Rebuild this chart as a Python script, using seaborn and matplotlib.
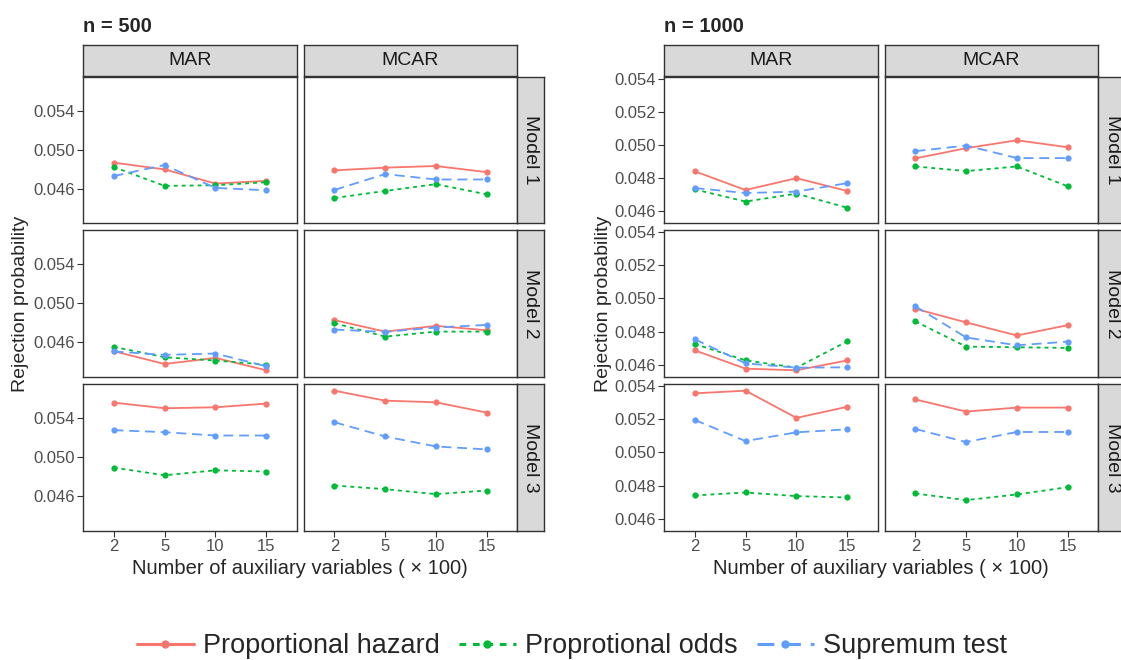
import numpy as np
import pandas as pd
import matplotlib
matplotlib.use("Agg")
import matplotlib.pyplot as plt
import seaborn as sns
from matplotlib.lines import Line2D

sns.set_style("white")
plt.rcParams['font.family'] = ['Liberation Sans', 'DejaVu Sans']

x_labels = ["2", "5", "10", "15"]
methods = ["Proportional hazard", "Proprotional odds", "Supremum test"]
mechanisms = ["MAR", "MCAR"]
models = ["Model 1", "Model 2", "Model 3"]

# n = 500
n500_m1_mar_ph = [0.04868, 0.04798, 0.04652, 0.04680]
n500_m1_mar_po = [0.04823, 0.04628, 0.04635, 0.04666]
n500_m1_mar_st = [0.04729, 0.04843, 0.04607, 0.04583]
n500_m1_mcar_ph = [0.04788, 0.04816, 0.04833, 0.04770]
n500_m1_mcar_po = [0.04503, 0.04576, 0.04646, 0.04541]
n500_m1_mcar_st = [0.04586, 0.04750, 0.04694, 0.04694]
n500_m2_mar_ph = [0.04510, 0.04379, 0.04441, 0.04314]
n500_m2_mar_po = [0.04555, 0.04448, 0.04414, 0.04372]
n500_m2_mar_st = [0.04507, 0.04472, 0.04486, 0.04355]
n500_m2_mcar_ph = [0.04828, 0.04710, 0.04769, 0.04724]
n500_m2_mcar_po = [0.04797, 0.04659, 0.04710, 0.04710]
n500_m2_mcar_st = [0.04731, 0.04707, 0.04752, 0.04779]
n500_m3_mar_ph = [0.05560, 0.05502, 0.05512, 0.05550]
n500_m3_mar_po = [0.04895, 0.04816, 0.04867, 0.04854]
n500_m3_mar_st = [0.05278, 0.05257, 0.05223, 0.05223]
n500_m3_mcar_ph = [0.05682, 0.05580, 0.05563, 0.05458]
n500_m3_mcar_po = [0.04711, 0.04674, 0.04623, 0.04660]
n500_m3_mcar_st = [0.05359, 0.05213, 0.05111, 0.05081]

# n = 1000
n1000_m1_mar_ph = [0.04840, 0.04726, 0.04798, 0.04720]
n1000_m1_mar_po = [0.04730, 0.04656, 0.04704, 0.04618]
n1000_m1_mar_st = [0.04738, 0.04708, 0.04716, 0.04768]
n1000_m1_mcar_ph = [0.04918, 0.04980, 0.05028, 0.04986]
n1000_m1_mcar_po = [0.04869, 0.04841, 0.04869, 0.04749]
n1000_m1_mcar_st = [0.04962, 0.04996, 0.04920, 0.04920]
n1000_m2_mar_ph = [0.04687, 0.04576, 0.04566, 0.04626]
n1000_m2_mar_po = [0.04725, 0.04626, 0.04582, 0.04741]
n1000_m2_mar_st = [0.04754, 0.04608, 0.04582, 0.04584]
n1000_m2_mcar_ph = [0.04937, 0.04855, 0.04776, 0.04838]
n1000_m2_mcar_po = [0.04861, 0.04709, 0.04705, 0.04701]
n1000_m2_mcar_st = [0.04952, 0.04764, 0.04717, 0.04739]
n1000_m3_mar_ph = [0.05356, 0.05372, 0.05208, 0.05275]
n1000_m3_mar_po = [0.04740, 0.04758, 0.04736, 0.04728]
n1000_m3_mar_st = [0.05196, 0.05068, 0.05121, 0.05139]
n1000_m3_mcar_ph = [0.05319, 0.05246, 0.05270, 0.05270]
n1000_m3_mcar_po = [0.04752, 0.04712, 0.04746, 0.04790]
n1000_m3_mcar_st = [0.05141, 0.05062, 0.05123, 0.05123]

y_ticks_500 = [0.046, 0.050, 0.054]
y_ticks_1000 = [0.046, 0.048, 0.050, 0.052, 0.054]

g = globals()
rows = []
for n in ["500", "1000"]:
    for mi, mod in enumerate(models):
        for mech in mechanisms:
            for meth, key in zip(methods, ["ph", "po", "st"]):
                vals = g[f"n{n}_m{mi+1}_{mech.lower()}_{key}"]
                for xi, v in enumerate(vals):
                    rows.append(dict(n=n, model=mod, mech=mech, method=meth,
                                     xpos=xi, value=v))
df = pd.DataFrame(rows)

colors = {"Proportional hazard": "#F8766D", "Proprotional odds": "#00BA38",
          "Supremum test": "#619CFF"}
dashes = {"Proportional hazard": "", "Proprotional odds": (2.2, 2.2),
          "Supremum test": (5.5, 3.2)}
markers = {m: "o" for m in methods}

W, H = 1121, 660
fig = plt.figure(figsize=(W / 100, H / 100), dpi=100)

def fax(x0, y0, x1, y1):
    return fig.add_axes([x0 / W, 1 - y1 / H, (x1 - x0) / W, (y1 - y0) / H])

col_x = {"500": [(83, 297), (304, 517)], "1000": [(664, 878), (885, 1098)]}
row_y = [(77, 223), (230, 377), (384, 531)]
strip_r = {"500": (517, 544), "1000": (1098, 1126)}
border = "#333333"
strip_fc = "#D9D9D9"

def draw_strip(x0, y0, x1, y1, text, rot):
    sax = fax(x0, y0, x1, y1)
    sax.set_xlim(0, 1); sax.set_ylim(0, 1)
    sax.set_xticks([]); sax.set_yticks([])
    sax.set_facecolor(strip_fc)
    for s in sax.spines.values():
        s.set_color(border); s.set_linewidth(1.0)
    sax.text(0.5, 0.5, text, ha="center", va="center", rotation=rot,
             fontsize=14, color="#1A1A1A")

for n in ["500", "1000"]:
    sub_n = df[df.n == n]
    vmin, vmax = sub_n.value.min(), sub_n.value.max()
    pad = (vmax - vmin) * 0.05
    ticks = y_ticks_500 if n == "500" else y_ticks_1000
    for ci, mech in enumerate(mechanisms):
        x0, x1 = col_x[n][ci]
        draw_strip(x0, 45, x1, 76, mech, 0)
        for ri, mod in enumerate(models):
            y0, y1 = row_y[ri]
            ax = fax(x0, y0, x1, y1)
            d = sub_n[(sub_n.model == mod) & (sub_n.mech == mech)]
            sns.lineplot(data=d, x="xpos", y="value", hue="method", style="method",
                         palette=colors, dashes=dashes, markers=markers,
                         hue_order=methods, style_order=methods,
                         linewidth=1.3, markersize=4.5, markeredgewidth=0,
                         legend=False, ax=ax)
            ax.set_xlim(-0.6, 3.6)
            ax.set_ylim(vmin - pad, vmax + pad)
            ax.set_xlabel(""); ax.set_ylabel("")
            for s in ax.spines.values():
                s.set_color(border); s.set_linewidth(1.0)
            ax.tick_params(axis="both", which="both", direction="out", length=4,
                           width=0.8, color="#333333", labelsize=12,
                           labelcolor="#4D4D4D", pad=2)
            ax.set_xticks(range(4))
            if ri == 2:
                ax.set_xticklabels(x_labels)
                ax.tick_params(axis="x", bottom=True)
            else:
                ax.set_xticklabels([])
                ax.tick_params(axis="x", bottom=False)
            ax.set_yticks(ticks)
            if ci == 0:
                ax.set_yticklabels([f"{t:.3f}" for t in ticks])
                ax.tick_params(axis="y", left=True)
            else:
                ax.set_yticklabels([])
                ax.tick_params(axis="y", left=False)
            ax.grid(False)
            if ci == 1:
                sx0, sx1 = strip_r[n]
                draw_strip(sx0, y0, sx1, y1, mod, -90)

fig.text(83 / W, 1 - 26 / H, "n = 500", fontsize=14.5, fontweight="bold",
         ha="left", va="center")
fig.text(664 / W, 1 - 26 / H, "n = 1000", fontsize=14.5, fontweight="bold",
         ha="left", va="center")
for xc in [21, 603]:
    fig.text(xc / W, 1 - 304 / H, "Rejection probability", fontsize=14,
             rotation=90, ha="center", va="center")
for xc in [300, 881]:
    fig.text(xc / W, 1 - 568 / H, "Number of auxiliary variables ( \u00d7 100)",
             fontsize=14.5, ha="center", va="center")

handles = []
for m in methods:
    h = Line2D([0], [0], color=colors[m], lw=2.2, marker="o", markersize=6,
               markeredgewidth=0, linestyle="-" if not dashes[m] else "--")
    if dashes[m]:
        h.set_dashes(dashes[m])
    handles.append(h)
fig.legend(handles, methods, loc="center", bbox_to_anchor=(572 / W, 1 - 646 / H),
           ncol=3, frameon=False, fontsize=19.5, handlelength=2.1,
           columnspacing=0.7, handletextpad=0.35)

fig.savefig("out.png", dpi=100, facecolor="white")
